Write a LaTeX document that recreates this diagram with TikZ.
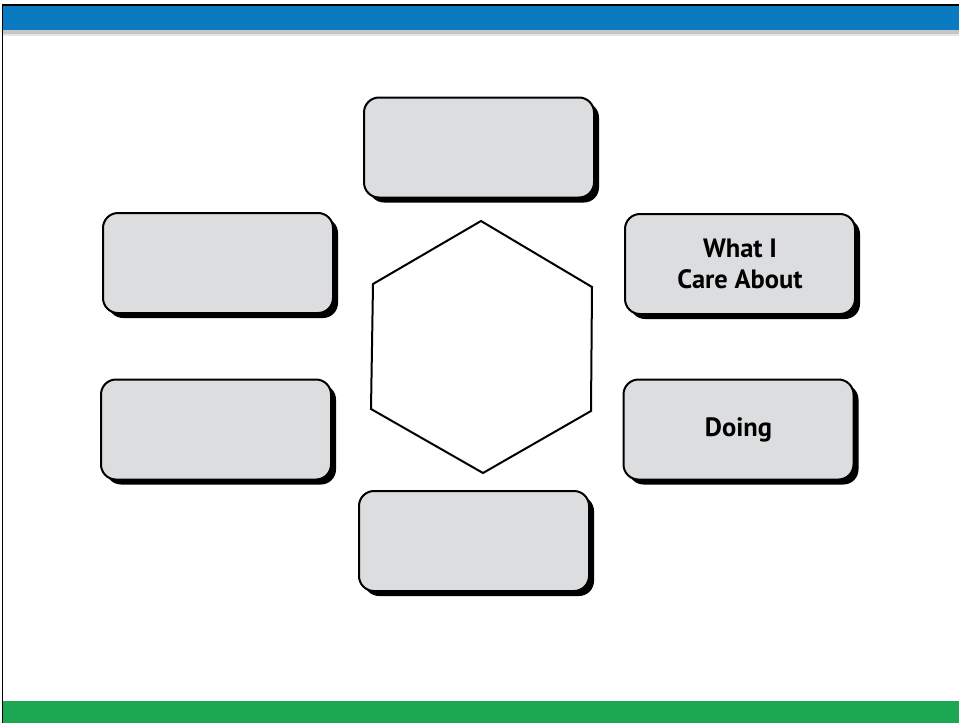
\documentclass[tikz,border=0pt]{standalone}
\usepackage{fontspec}
\setmainfont{PT Sans}
\usetikzlibrary{shadows}
\definecolor{barblue}{HTML}{0A7BC1}
\definecolor{bargreen}{HTML}{1CA753}
\definecolor{boxgrey}{HTML}{DCDDDF}
\tikzset{
  card/.style={draw=black, line width=2pt, fill=boxgrey, rounded corners=15pt,
    minimum width=230pt, minimum height=100pt, inner sep=0pt,
    align=center, font=\fontsize{26.5}{31}\selectfont\bfseries,
    drop shadow={shadow xshift=5pt, shadow yshift=-5pt, fill=black, opacity=1}},
  hexline/.style={draw=black, line width=2pt, line join=miter}
}
\begin{document}
\begin{tikzpicture}[x=1pt, y=-1pt]
\useasboundingbox (0,0) rectangle (959,723);
% frame and bars
\fill[gray!45] (3,30) rectangle (959,34);
\fill[gray!20] (3,34) rectangle (959,36);
\fill[barblue] (3,6) rectangle (959,30);
\fill[bargreen] (3,701) rectangle (959,723);
\draw[black, line width=1.5pt] (2.5,723) -- (2.5,5) -- (959,5);
% cards
\node[card] (top) at (479,147.5) {};
\node[card] (lt) at (218,263) {};
\node[card] (rt) at (740,264) {What I\\Care About};
\node[card] (lb) at (216,429.5) {};
\node[card] (rb) at (738.5,429.5) {Doing};
\node[card] (bot) at (474,541) {};
% hexagon
\coordinate (h1) at (481,221);
\coordinate (h2) at (592,287);
\coordinate (h3) at (591,411);
\coordinate (h4) at (483,473);
\coordinate (h5) at (371,409);
\coordinate (h6) at (373,284);
\draw[hexline] (h1) -- (h2) -- (h3) -- (h4) -- (h5) -- (h6) -- cycle;
\end{tikzpicture}
\end{document}
